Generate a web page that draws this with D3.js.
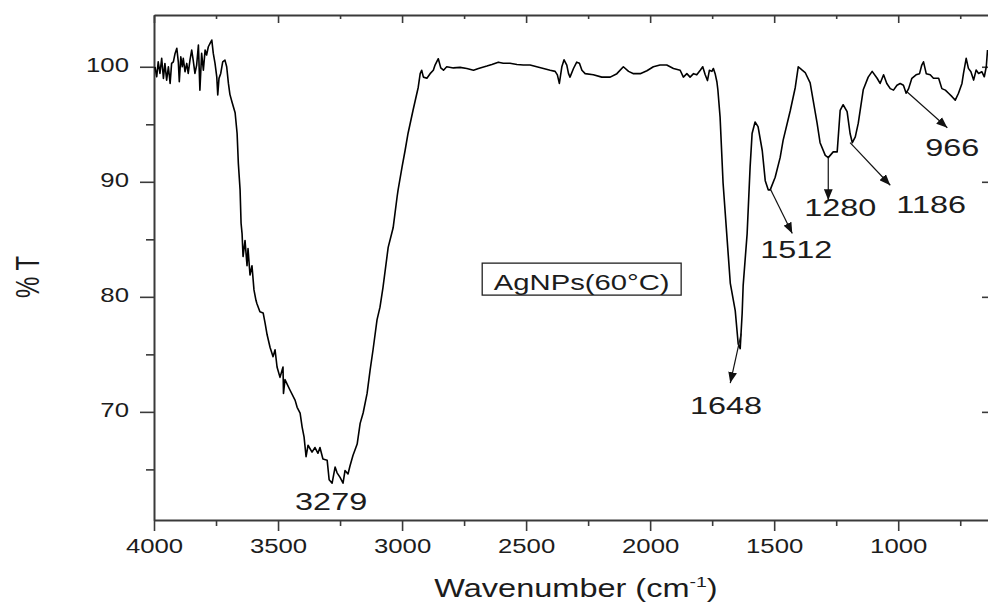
<!DOCTYPE html>
<html>
<head>
<meta charset="utf-8">
<script src="https://cdn.jsdelivr.net/npm/d3@7"></script>
<style>
  html, body { margin: 0; padding: 0; background: #fff; }
  svg { display: block; font-family: "Liberation Sans", Arial, sans-serif; }
</style>
</head>
<body>
<svg id="chart"></svg>
<script>
// FTIR spectrum, values (wavenumber cm-1, %T)
var wavenumber = [
  3996, 3989, 3983, 3976, 3969, 3962, 3956, 3949, 3942, 3935, 3929, 3922, 3915, 3908, 3902, 3898,
  3892, 3886, 3882, 3875, 3868, 3862, 3855, 3848, 3842, 3835, 3828, 3821, 3815, 3808, 3801, 3794,
  3788, 3781, 3774, 3767, 3761, 3754, 3747, 3743, 3738, 3731, 3723, 3714, 3707, 3700, 3694, 3685,
  3673, 3665, 3660, 3653, 3649, 3645, 3641, 3633, 3625, 3621, 3613, 3605, 3597, 3589, 3585, 3573,
  3560, 3552, 3544, 3532, 3520, 3512, 3504, 3492, 3480, 3478, 3472, 3452, 3431, 3423, 3411, 3403,
  3395, 3387, 3379, 3363, 3351, 3339, 3331, 3319, 3302, 3294, 3282, 3270, 3262, 3250, 3238, 3230,
  3218, 3210, 3198, 3181, 3169, 3157, 3141, 3129, 3117, 3101, 3089, 3077, 3056, 3036, 3020, 3016,
  3000, 2988, 2976, 2956, 2935, 2927, 2921, 2914, 2900, 2887, 2874, 2867, 2854, 2844, 2833, 2820,
  2793, 2766, 2739, 2712, 2692, 2658, 2638, 2612, 2592, 2565, 2537, 2511, 2484, 2457, 2430, 2403,
  2383, 2374, 2366, 2356, 2347, 2336, 2329, 2323, 2309, 2296, 2285, 2275, 2262, 2229, 2195, 2161,
  2134, 2108, 2087, 2067, 2040, 2013, 1987, 1960, 1933, 1906, 1879, 1866, 1852, 1839, 1825, 1812,
  1798, 1788, 1778, 1769, 1761, 1751, 1745, 1738, 1731, 1727, 1718, 1706, 1685, 1677, 1657, 1645,
  1637, 1629, 1625, 1609, 1597, 1589, 1577, 1565, 1548, 1536, 1524, 1516, 1496, 1476, 1464, 1435,
  1415, 1403, 1387, 1375, 1355, 1343, 1327, 1315, 1294, 1282, 1262, 1246, 1234, 1222, 1206, 1194,
  1185, 1173, 1161, 1141, 1121, 1105, 1085, 1073, 1059, 1046, 1032, 1019, 1005, 992, 979, 968,
  958, 945, 928, 914, 905, 898, 887, 871, 858, 837, 824, 810, 797, 783, 770, 757,
  743, 737, 726, 717, 707, 696, 686, 676, 663, 653, 645, 640
];
var transmittance = [
  100.0, 99.13, 100.43, 99.42, 100.73, 98.99, 100.29, 98.84, 100.0, 98.55, 100.29, 100.43, 101.16, 101.6, 100.43, 98.7,
  100.87, 100.0, 100.73, 99.57, 100.29, 99.42, 100.58, 101.45, 100.58, 99.42, 100.15, 101.89, 97.97, 101.16, 99.71, 101.45,
  101.02, 101.74, 102.03, 102.32, 101.16, 100.29, 99.13, 97.54, 98.99, 99.42, 100.43, 100.58, 100.0, 98.55, 97.6, 96.9,
  96.0, 94.2, 91.6, 89.3, 86.4, 85.5, 83.5, 84.9, 82.7, 84.2, 81.9, 82.7, 80.6, 79.7, 79.4, 78.7,
  78.6, 77.7, 76.7, 75.6, 74.8, 75.4, 73.9, 73.0, 73.9, 71.6, 72.8, 71.9, 71.0, 70.4, 69.9, 68.7,
  67.8, 66.1, 67.1, 66.5, 66.9, 66.4, 66.9, 65.9, 65.8, 64.1, 63.8, 65.2, 64.7, 64.3, 63.8, 64.9,
  64.6, 65.3, 66.2, 67.2, 69.0, 69.9, 71.6, 73.6, 75.4, 78.0, 79.1, 80.8, 84.3, 86.0, 88.7, 89.3,
  91.3, 92.7, 94.2, 96.2, 98.2, 99.4, 99.7, 99.1, 99.0, 99.4, 99.7, 100.15, 100.7, 99.9, 99.7, 100.0,
  99.9, 99.95, 99.85, 99.7, 99.85, 100.06, 100.2, 100.4, 100.3, 100.3, 100.2, 100.15, 100.15, 100.0, 99.85, 99.7,
  99.6, 99.3, 98.55, 100.0, 100.6, 100.15, 99.4, 99.1, 99.85, 100.4, 100.3, 99.7, 99.4, 99.3, 99.1, 99.1,
  99.4, 100.0, 99.6, 99.4, 99.4, 99.65, 100.0, 100.15, 100.15, 99.85, 99.7, 99.1, 99.4, 99.1, 99.4, 99.3,
  99.7, 100.0, 99.3, 98.8, 99.7, 99.6, 99.85, 99.4, 98.7, 98.0, 95.6, 89.9, 83.6, 81.2, 78.8, 75.9,
  75.5, 78.6, 81.0, 85.5, 91.3, 94.2, 95.2, 94.8, 92.7, 90.1, 89.3, 89.3, 90.4, 92.1, 93.6, 96.2,
  98.2, 100.0, 99.7, 99.5, 98.6, 97.1, 95.1, 93.4, 92.3, 92.1, 92.6, 92.6, 96.2, 96.7, 96.1, 94.2,
  93.4, 93.9, 95.1, 98.0, 99.1, 99.6, 99.0, 98.55, 99.3, 98.55, 98.1, 97.97, 98.4, 98.55, 98.4, 97.7,
  98.1, 99.0, 99.3, 99.4, 100.15, 100.43, 99.4, 99.3, 99.0, 99.0, 98.1, 97.97, 97.7, 97.4, 97.1, 97.7,
  98.55, 99.4, 100.73, 99.86, 99.57, 98.84, 99.71, 99.42, 99.57, 99.13, 100.0, 101.45
];

var xMajorTicks = [4000, 3500, 3000, 2500, 2000, 1500, 1000];
var xMinorTicks = [3750, 3250, 2750, 2250, 1750, 1250, 750];
var yMajorTicks = [70, 80, 90, 100];
var yMinorTicks = [65, 75, 85, 95];

// peak labels: arrow from [w,T] to [w,T], label at [w,T]
var peakLabels = ["3279", "1648", "1512", "1280", "1186", "966"];
var arrowFrom = [null, [1633, 76.8], [1516, 89.4], [1282, 92.1], [1194, 93.4], [964, 97.8]];
var arrowTo = [null, [1677, 72.5], [1427, 85.5], [1282, 88.4], [1032, 89.7], [802, 94.7]];
var labelAt = [[3286, 61.5], [1694, 69.8], [1411, 83.4], [1234, 87.0], [867, 87.3], [782, 92.2]];

var sampleName = "AgNPs(60°C)";

var W = 988, H = 603;
var m = {left: 154, right: 990, top: 15, bottom: 520};
var SX = 1.32; // the original figure is stretched sideways

var svg = d3.select("#chart").attr("width", W).attr("height", H);

var x = d3.scaleLinear().domain([4000, 630]).range([m.left, m.right]);
var y = d3.scaleLinear().domain([60.6, 104.5]).range([m.bottom, m.top]);

var axisColor = "#3a3a3a";
var textColor = "#1c1c1c";

svg.append("defs").append("marker")
  .attr("id", "arrow")
  .attr("markerUnits", "userSpaceOnUse")
  .attr("viewBox", "0 0 10 8")
  .attr("refX", 10).attr("refY", 4)
  .attr("markerWidth", 11).attr("markerHeight", 9)
  .attr("orient", "auto")
  .append("path")
  .attr("d", "M0,0 L10,4 L0,8 Z")
  .attr("fill", "#111");

function styleAxis(g) {
  g.select(".domain").attr("stroke", axisColor).attr("stroke-width", 2);
  g.selectAll(".tick line").attr("stroke", axisColor).attr("stroke-width", 1.6);
}
function noDomain(g) { g.select(".domain").remove(); }

// bottom axis
var gBottom = svg.append("g").attr("transform", "translate(0," + m.bottom + ")")
  .call(d3.axisBottom(x).tickValues(xMajorTicks).tickSize(11).tickSizeOuter(0).tickFormat(d3.format("d")));
svg.append("g").attr("transform", "translate(0," + m.bottom + ")")
  .call(d3.axisBottom(x).tickValues(xMinorTicks).tickSize(6).tickSizeOuter(0).tickFormat(""))
  .call(noDomain)
  .call(styleAxis);
gBottom.call(styleAxis);
gBottom.selectAll(".tick text")
  .attr("x", 0).attr("y", 0).attr("dy", 0)
  .attr("transform", "translate(0,33) scale(" + SX + ",1)")
  .attr("text-anchor", "middle")
  .attr("fill", textColor)
  .style("font-size", "19.5px");

// top axis (inward ticks)
svg.append("g").attr("transform", "translate(0," + m.top + ")")
  .call(d3.axisBottom(x).tickValues(xMajorTicks).tickSize(8).tickSizeOuter(0).tickFormat(""))
  .call(styleAxis);
svg.append("g").attr("transform", "translate(0," + m.top + ")")
  .call(d3.axisBottom(x).tickValues(xMinorTicks).tickSize(4).tickSizeOuter(0).tickFormat(""))
  .call(noDomain)
  .call(styleAxis);

// left axis
var gLeft = svg.append("g").attr("transform", "translate(" + m.left + ",0)")
  .call(d3.axisLeft(y).tickValues(yMajorTicks).tickSize(14).tickSizeOuter(0));
svg.append("g").attr("transform", "translate(" + m.left + ",0)")
  .call(d3.axisLeft(y).tickValues(yMinorTicks).tickSize(8).tickSizeOuter(0).tickFormat(""))
  .call(noDomain)
  .call(styleAxis);
gLeft.call(styleAxis);
gLeft.selectAll(".tick text")
  .attr("x", 0).attr("y", 0).attr("dy", 0)
  .attr("transform", "translate(-25,5) scale(" + SX + ",1)")
  .attr("text-anchor", "end")
  .attr("fill", textColor)
  .style("font-size", "19.5px");

// right axis (line sits just outside the window, inward ticks show)
svg.append("g").attr("transform", "translate(" + m.right + ",0)")
  .call(d3.axisRight(y).tickValues(yMajorTicks).tickSize(-8).tickSizeOuter(0).tickFormat(""))
  .call(styleAxis);

// spectrum
var spectrum = wavenumber.map(function(w, i) { return [w, transmittance[i]]; });
var line = d3.line()
  .x(function(d) { return x(d[0]); })
  .y(function(d) { return y(d[1]); });

svg.append("path")
  .datum(spectrum)
  .attr("fill", "none")
  .attr("stroke", "#000")
  .attr("stroke-width", 1.6)
  .attr("stroke-linejoin", "round")
  .attr("d", line);

// arrows + peak labels
peakLabels.forEach(function(lbl, i) {
  if (arrowFrom[i]) {
    svg.append("line")
      .attr("x1", x(arrowFrom[i][0])).attr("y1", y(arrowFrom[i][1]))
      .attr("x2", x(arrowTo[i][0])).attr("y2", y(arrowTo[i][1]))
      .attr("stroke", "#111")
      .attr("stroke-width", 1.2)
      .attr("marker-end", "url(#arrow)");
  }
  svg.append("text")
    .attr("transform", "translate(" + x(labelAt[i][0]) + "," + y(labelAt[i][1]) + ") scale(1.38,1)")
    .attr("text-anchor", "middle")
    .attr("fill", textColor)
    .style("font-size", "23.5px")
    .text(lbl);
});

// sample name box
svg.append("rect")
  .attr("x", x(2677)).attr("y", y(82.93))
  .attr("width", x(1875) - x(2677))
  .attr("height", y(80.15) - y(82.93))
  .attr("fill", "none")
  .attr("stroke", "#222")
  .attr("stroke-width", 1.3);
svg.append("text")
  .attr("transform", "translate(" + x(2276) + "," + y(80.6) + ") scale(1.3,1)")
  .attr("text-anchor", "middle")
  .attr("fill", textColor)
  .style("font-size", "22.5px")
  .text(sampleName);

// axis titles
var xTitle = svg.append("text")
  .attr("transform", "translate(576,597) scale(1.3,1)")
  .attr("text-anchor", "middle")
  .attr("fill", textColor)
  .style("font-size", "25px");
xTitle.append("tspan").text("Wavenumber (cm");
xTitle.append("tspan").attr("dy", -10).style("font-size", "15px").text("-1");
xTitle.append("tspan").attr("dy", 10).text(")");

svg.append("text")
  .attr("transform", "translate(39,277) scale(1.36,1) rotate(-90)")
  .attr("text-anchor", "middle")
  .attr("fill", textColor)
  .style("font-size", "24px")
  .text("% T");
</script>
</body>
</html>
